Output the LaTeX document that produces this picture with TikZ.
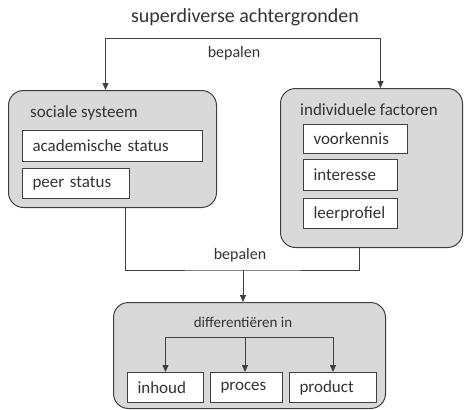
\documentclass[tikz,border=0pt]{standalone}
\usepackage{fontspec}
\setmainfont{Carlito}
\usetikzlibrary{arrows.meta}

\definecolor{kader}{HTML}{3F3F3F}
\definecolor{vulling}{HTML}{D9D9D9}
\definecolor{tekst}{HTML}{333333}

\tikzset{
  groep/.style={draw=kader, fill=vulling, line width=1pt, rounded corners=15pt, anchor=north west, inner sep=0pt},
  vak/.style={draw=kader, fill=white, line width=1pt, anchor=north west, inner xsep=10pt, inner ysep=0pt, align=left, text=tekst, font=\fontsize{17}{20}\selectfont},
  label/.style={text=tekst, inner sep=0pt},
  lijn/.style={line width=0.8pt, kader},
  pijl/.style={lijn, -{Triangle[length=7pt,width=6pt]}},
}

\begin{document}
\begin{tikzpicture}[x=1pt, y=-1pt]
\useasboundingbox (0,0) rectangle (464,410);

% Title
\node[label, font=\fontsize{20}{24}\selectfont] (achtergrond) at (245,17) {superdiverse achtergronden};

% Top group boxes
\node[groep, minimum width=208pt, minimum height=117pt] (sociaal) at (8,90) {};
\node[label, anchor=west, font=\fontsize{17}{20}\selectfont] (sociaaltitel) at (30,113) {sociale systeem};
\node[vak, text width=160pt, minimum height=31pt] (academisch) at (22,130) {academische status};
\node[vak, text width=87pt, minimum height=30pt] (peer) at (22,168) {peer status};

\node[groep, minimum width=182pt, minimum height=159pt] (individueel) at (280,88) {};
\node[label, anchor=west, font=\fontsize{17}{20}\selectfont] (individueeltitel) at (300,110) {individuele factoren};
\node[vak, text width=84pt, minimum height=29pt] (voorkennis) at (303,124) {voorkennis};
\node[vak, text width=74pt, minimum height=31pt] (interesse) at (303,159) {interesse};
\node[vak, text width=74pt, minimum height=30pt] (leerprofiel) at (303,198) {leerprofiel};

% bepalen (top)
\coordinate (splitsing) at (243,38);
\draw[lijn] ([xshift=-7pt]sociaal.north |- splitsing) -- ([xshift=9pt]individueel.north |- splitsing);
\draw[pijl] ([xshift=-7pt]sociaal.north |- splitsing) -- ([xshift=-7pt]sociaal.north);
\draw[pijl] ([xshift=9pt]individueel.north |- splitsing) -- ([xshift=9pt]individueel.north);
\node[label, font=\fontsize{16}{19}\selectfont] (bepalen1) at (234,53) {bepalen};

% Bottom group box
\node[groep, minimum width=272pt, minimum height=106pt] (differentiatie) at (113,302) {};
\node[label, font=\fontsize{15}{18}\selectfont] (diftitel) at (243,322) {differentiëren in};
\node[vak, text width=56pt, minimum height=30pt] (inhoud) at (127,372) {inhoud};
\node[vak, text width=52pt, minimum height=30pt] (proces) at (210,372) {proces};
\node[vak, text width=67pt, minimum height=30pt] (product) at (289,372) {product};

% bepalen (bottom)
\coordinate (samen) at (243,270);
\draw[lijn] ([xshift=13pt]sociaal.south) |- (samen) -| ([xshift=-12pt]individueel.south);
\draw[pijl] (samen) -- (samen |- differentiatie.north);
\node[label, font=\fontsize{16}{19}\selectfont] (bepalen2) at (240,255) {bepalen};

% differentieren in
\coordinate (verdeel) at (245,337);
\draw[pijl] (verdeel) -| (inhoud.north);
\draw[pijl] (verdeel) -| (product.north);
\draw[pijl] (verdeel) -- (verdeel |- proces.north);
\end{tikzpicture}
\end{document}
